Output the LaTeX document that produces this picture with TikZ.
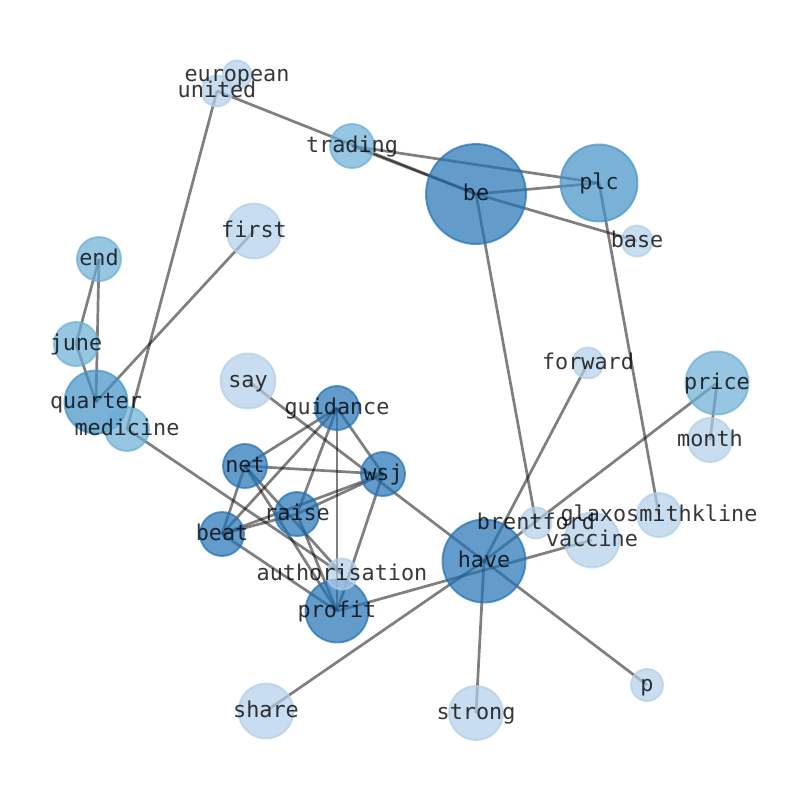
\documentclass[tikz,border=0pt]{standalone}
\usepackage{fontspec}
\newfontfamily\wordfont{DejaVu Sans Mono}
\usetikzlibrary{backgrounds}
\definecolor{deepblue}{HTML}{2171B5}
\definecolor{midblue}{HTML}{4292C6}
\definecolor{paleblue}{HTML}{6BAED6}
\definecolor{lightblue}{HTML}{B1CEE8}
\tikzset{
  Vertex/.style={circle, inner sep=0pt, outer sep=0pt, line width=1.9pt,
    fill opacity=0.7, draw opacity=0.7},
  Deep/.style={Vertex, fill=deepblue, draw=deepblue},
  Mid/.style={Vertex, fill=midblue, draw=midblue},
  Pale/.style={Vertex, fill=paleblue, draw=paleblue},
  Light/.style={Vertex, fill=lightblue, draw=lightblue},
  Word/.style={font=\wordfont\fontsize{21.8}{22}\selectfont, text=black,
    text opacity=0.78, inner sep=0pt, text height=17pt, text depth=4pt},
  Edge/.style={draw=black, draw opacity=0.5, line width=2.7pt}
}

\begin{document}
\begin{tikzpicture}[x=1pt, y=-1pt]
   \useasboundingbox (0,0) rectangle (794,790);
   % words
   \node [Light, minimum size=29pt] (european) at (237,75) {};
   \node [Light, minimum size=31pt] (united) at (217,91) {};
   \node [Pale, minimum size=44pt] (trading) at (352,146) {};
   \node [Deep, minimum size=100pt] (be) at (476,194) {};
   \node [Mid, minimum size=77pt] (plc) at (599,183) {};
   \node [Light, minimum size=31pt] (base) at (637,241) {};
   \node [Light, minimum size=55pt] (first) at (254,231) {};
   \node [Pale, minimum size=44pt] (end) at (99,259) {};
   \node [Pale, minimum size=44pt] (june) at (76,344) {};
   \node [Mid, minimum size=63pt] (quarter) at (96,402) {};
   \node [Pale, minimum size=44pt] (medicine) at (127,429) {};
   \node [Light, minimum size=55pt] (say) at (248,381) {};
   \node [Deep, minimum size=44pt] (guidance) at (337,408) {};
   \node [Deep, minimum size=44pt] (net) at (245,466) {};
   \node [Deep, minimum size=44pt] (wsj) at (383,474) {};
   \node [Deep, minimum size=44pt] (raise) at (297,514) {};
   \node [Deep, minimum size=44pt] (beat) at (222,534) {};
   \node [Deep, minimum size=63pt] (profit) at (337,611) {};
   \node [Light, minimum size=31pt] (authorisation) at (342,574) {};
   \node [Deep, minimum size=83pt] (have) at (484,561) {};
   \node [Light, minimum size=31pt] (brentford) at (536,523) {};
   \node [Light, minimum size=55pt] (vaccine) at (592,540) {};
   \node [Light, minimum size=44pt] (glaxosmithkline) at (659,515) {};
   \node [Light, minimum size=31pt] (forward) at (588,363) {};
   \node [Pale, minimum size=63pt] (price) at (717,383) {};
   \node [Light, minimum size=44pt] (month) at (710,440) {};
   \node [Light, minimum size=32pt] (p) at (647,685) {};
   \node [Light, minimum size=55pt] (share) at (266,711) {};
   \node [Light, minimum size=54pt] (strong) at (476,713) {};

   % labels
   \node [Word] at (european) {european};
   \node [Word] at (united) {united};
   \node [Word] at (trading) {trading};
   \node [Word] at (be) {be};
   \node [Word] at (plc) {plc};
   \node [Word] at (base) {base};
   \node [Word] at (first) {first};
   \node [Word] at (end) {end};
   \node [Word] at (june) {june};
   \node [Word] at (quarter) {quarter};
   \node [Word] at (medicine) {medicine};
   \node [Word] at (say) {say};
   \node [Word] at (guidance) {guidance};
   \node [Word] at (net) {net};
   \node [Word] at (wsj) {wsj};
   \node [Word] at (raise) {raise};
   \node [Word] at (beat) {beat};
   \node [Word] at (profit) {profit};
   \node [Word] at (authorisation) {authorisation};
   \node [Word] at (have) {have};
   \node [Word] at (brentford) {brentford};
   \node [Word] at (vaccine) {vaccine};
   \node [Word] at (glaxosmithkline) {glaxosmithkline};
   \node [Word] at (forward) {forward};
   \node [Word] at (price) {price};
   \node [Word] at (month) {month};
   \node [Word] at (p) {p};
   \node [Word] at (share) {share};
   \node [Word] at (strong) {strong};

   \begin{scope}[on background layer]
   \draw [Edge] (united.center) -- (be.center);
   \draw [Edge] (trading.center) -- (be.center);
   \draw [Edge] (trading.center) -- (plc.center);
   \draw [Edge] (be.center) -- (plc.center);
   \draw [Edge] (be.center) -- (base.center);
   \draw [Edge] (be.center) -- (brentford.center);
   \draw [Edge] (plc.center) -- (glaxosmithkline.center);
   \draw [Edge] (united.center) -- (medicine.center);
   \draw [Edge] (first.center) -- (quarter.center);
   \draw [Edge] (end.center) -- (june.center);
   \draw [Edge] (end.center) -- (quarter.center);
   \draw [Edge] (june.center) -- (quarter.center);
   \draw [Edge] (medicine.center) -- (authorisation.center);
   \draw [Edge] (say.center) -- (have.center);
   \draw [Edge] (guidance.center) -- (net.center);
   \draw [Edge] (guidance.center) -- (beat.center);
   \draw [Edge] (guidance.center) -- (raise.center);
   \draw [Edge] (guidance.center) -- (profit.center);
   \draw [Edge] (guidance.center) -- (wsj.center);
   \draw [Edge] (net.center) -- (wsj.center);
   \draw [Edge] (net.center) -- (beat.center);
   \draw [Edge] (net.center) -- (profit.center);
   \draw [Edge] (net.center) -- (authorisation.center);
   \draw [Edge] (beat.center) -- (wsj.center);
   \draw [Edge] (beat.center) -- (raise.center);
   \draw [Edge] (raise.center) -- (wsj.center);
   \draw [Edge] (beat.center) -- (profit.center);
   \draw [Edge] (raise.center) -- (profit.center);
   \draw [Edge] (wsj.center) -- (profit.center);
   \draw [Edge] (profit.center) -- (vaccine.center);
   \draw [Edge] (share.center) -- (have.center);
   \draw [Edge] (have.center) -- (strong.center);
   \draw [Edge] (have.center) -- (p.center);
   \draw [Edge] (have.center) -- (forward.center);
   \draw [Edge] (have.center) -- (price.center);
   \draw [Edge] (price.center) -- (month.center);
   \end{scope}
\end{tikzpicture}
\end{document}
